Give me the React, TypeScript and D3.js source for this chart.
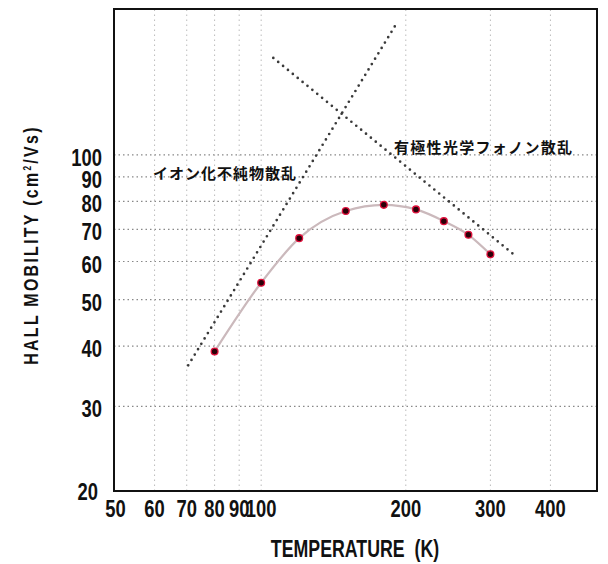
import React from "react";
import * as d3 from "d3";

const temps = [80, 100, 120, 150, 180, 210, 240, 270, 300];
const mobility = [39, 54.2, 67.1, 76.4, 78.7, 77, 72.8, 68.2, 62.1];

// guide lines for the two scattering mechanisms
const impurityT = [70.5, 191];
const impurityMu = [36.5, 187];
const phononT = [106, 336];
const phononMu = [159, 62];

const xTicks = [50, 60, 70, 80, 90, 100, 200, 300, 400];
const xTickLabels = ["50", "60", "70", "80", "90", "100", "200", "300", "400"];
const yTicks = [20, 30, 40, 50, 60, 70, 80, 90, 100];
const yTickLabels = ["20", "30", "40", "50", "60", "70", "80", "90", "100"];

const W = 608;
const H = 564;
const margin = { top: 9, right: 11, bottom: 73, left: 114 };
const font = "'Liberation Sans', Arial, sans-serif";

// narrow bold text, squeezed horizontally like the condensed face in the scan
const Narrow = ({ x, y, size, anchor = "start", sx = 0.8, rotate = 0, spacing = 0, children }: any) => (
  <text
    transform={`translate(${x},${y}) rotate(${rotate}) scale(${sx},1)`}
    textAnchor={anchor}
    fontFamily={font}
    fontWeight="bold"
    fontSize={size}
    letterSpacing={spacing}
    fill="#111"
  >
    {children}
  </text>
);

const App = () => {
  const x = d3
    .scaleLog()
    .domain([49.4, 500])
    .range([margin.left, W - margin.right]);
  const y = d3
    .scaleLog()
    .domain([20, 201])
    .range([H - margin.bottom, margin.top]);

  const curve = d3
    .line<number>()
    .x((d, i) => x(temps[i]))
    .y((d) => y(d))
    .curve(d3.curveMonotoneX);

  const straight = (ts: number[], ms: number[]) =>
    d3
      .line<number>()
      .x((d, i) => x(ts[i]))
      .y((d) => y(d))(ms) || "";

  const x0 = margin.left;
  const x1 = W - margin.right;
  const y0 = H - margin.bottom;
  const y1 = margin.top;

  return (
    <svg
      width={W}
      height={H}
      style={{ position: "absolute", left: 0, top: 0, background: "#fff" }}
    >
      {/* grid */}
      {yTicks.slice(1).map((t) => (
        <line
          key={"gy" + t}
          x1={x0}
          x2={x1}
          y1={y(t)}
          y2={y(t)}
          stroke="#888"
          strokeWidth={1.2}
          strokeDasharray="1.5 3"
        />
      ))}
      {xTicks.slice(1).map((t) => (
        <line
          key={"gx" + t}
          x1={x(t)}
          x2={x(t)}
          y1={y0}
          y2={y1}
          stroke="#bbb"
          strokeWidth={1}
          strokeDasharray="1.5 3.5"
        />
      ))}

      {/* scattering guide lines */}
      <path
        d={straight(impurityT, impurityMu)}
        fill="none"
        stroke="#3a3a3a"
        strokeWidth={2.7}
        strokeLinecap="round"
        strokeDasharray="0 6.3"
      />
      <path
        d={straight(phononT, phononMu)}
        fill="none"
        stroke="#3a3a3a"
        strokeWidth={2.7}
        strokeLinecap="round"
        strokeDasharray="0 6.3"
      />

      {/* data */}
      <path
        d={curve(mobility) || ""}
        fill="none"
        stroke="#cbb9bc"
        strokeWidth={2.2}
      />
      {mobility.map((m, i) => (
        <circle
          key={"p" + i}
          cx={x(temps[i])}
          cy={y(m)}
          r={3.4}
          fill="#2a0008"
          stroke="#e0103c"
          strokeWidth={1.3}
        />
      ))}

      {/* frame */}
      <rect
        x={x0}
        y={y1}
        width={x1 - x0}
        height={y0 - y1}
        fill="none"
        stroke="#111"
        strokeWidth={2}
      />

      {/* tick labels */}
      {yTicks.map((t, i) => (
        <Narrow
          key={"yl" + t}
          x={t === 20 ? 98 : 102}
          y={t === 20 ? 500 : y(t) + 11}
          size={23}
          anchor="end"
        >
          {yTickLabels[i]}
        </Narrow>
      ))}
      {xTicks.map((t, i) => (
        <Narrow key={"xl" + t} x={x(t) - (t === 50 ? 1 : 0)} y={517} size={23} anchor="middle">
          {xTickLabels[i]}
        </Narrow>
      ))}

      {/* annotations */}
      <text
        x={153}
        y={179}
        fontFamily="'Noto Sans CJK JP', sans-serif"
        fontWeight="bold"
        fontSize={15}
        letterSpacing={1}
        fill="#111"
      >
        イオン化不純物散乱
      </text>
      <text
        x={394}
        y={153}
        fontFamily="'Noto Sans CJK JP', sans-serif"
        fontWeight="bold"
        fontSize={15}
        letterSpacing={1.3}
        fill="#111"
      >
        有極性光学フォノン散乱
      </text>

      {/* axis titles */}
      <Narrow x={355} y={557} size={24} anchor="middle" sx={0.74}>
        TEMPERATURE{"\u00a0\u00a0"}(K)
      </Narrow>
      <Narrow
        x={38}
        y={245}
        size={21}
        anchor="middle"
        sx={0.76}
        rotate={-90}
        spacing={3}
      >
        HALL MOBILITY (cm<tspan dy={-7} fontSize={11}>2</tspan>
        <tspan dy={7}>/Vs)</tspan>
      </Narrow>
    </svg>
  );
};

export default App;
